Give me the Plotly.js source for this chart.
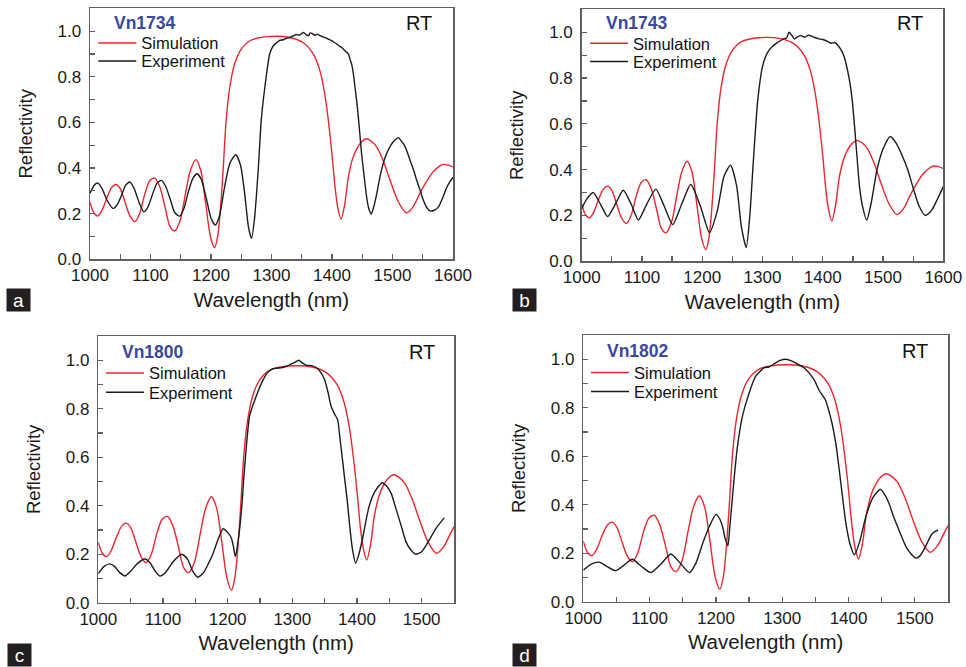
<!DOCTYPE html>
<html>
<head>
<meta charset="utf-8">
<script src="https://cdn.plot.ly/plotly-3.0.1.min.js"></script>
<style>
html,body{margin:0;padding:0;background:#fff;}
#chart{width:966px;height:667px;}
</style>
</head>
<body>
<div id="chart"></div>
<script>
// ---------- data ----------
const panelNames = ["Vn1734", "Vn1743", "Vn1800", "Vn1802"];
const panelLetters = ["a", "b", "c", "d"];
const seriesNames = ["Simulation", "Experiment"];
const xRangeAB = [1000, 1600];
const xRangeCD = [1000, 1550];
const yRange = [0, 1.1];

// simulated reflectivity (same design curve in all four panels)
const simX = [1000,1006,1013,1020,1028,1036,1043,1050,1058,1066,1074,1082,1091,1099,1107,1115,1124,1132,1140,1149,1158,1166,1175,1183,1191,1199,1206,1211,1215,1220,1225,1231,1239,1250,1266,1294,1330,1352,1369,1380,1388,1394,1400,1405,1410,1415,1421,1427,1434,1441,1449,1457,1466,1474,1485,1496,1510,1523,1534,1545,1556,1567,1576,1584,1592,1600];
const simY = [0.25,0.205,0.19,0.215,0.27,0.315,0.328,0.31,0.25,0.19,0.165,0.20,0.29,0.345,0.356,0.32,0.23,0.145,0.124,0.17,0.29,0.39,0.437,0.39,0.25,0.10,0.051,0.10,0.20,0.39,0.608,0.754,0.856,0.921,0.96,0.976,0.972,0.95,0.90,0.827,0.725,0.608,0.46,0.317,0.22,0.176,0.24,0.36,0.44,0.485,0.515,0.528,0.515,0.492,0.43,0.346,0.25,0.204,0.23,0.288,0.34,0.383,0.405,0.416,0.413,0.405];

// experiment, panel a (Vn1734)
const expAX = [1000,1007,1013,1020,1028,1038,1045,1052,1059,1066,1073,1081,1089,1096,1104,1111,1118,1125,1133,1140,1148,1155,1163,1170,1177,1184,1192,1200,1207,1214,1222,1231,1241,1249,1256,1262,1267,1272,1278,1283,1289,1297,1303,1309,1314,1320,1325,1330,1336,1341,1346,1350,1353,1357,1361,1364,1367,1372,1376,1380,1385,1390,1394,1399,1404,1408,1412,1416,1419,1423,1427,1430,1433,1436,1438,1442,1446,1449,1452,1455,1458,1461,1465,1469,1474,1480,1488,1495,1501,1505,1510,1514,1518,1523,1529,1535,1540,1546,1551,1556,1562,1569,1576,1583,1590,1595,1600];
const expAY = [0.29,0.325,0.334,0.31,0.26,0.223,0.24,0.28,0.325,0.339,0.31,0.25,0.208,0.23,0.29,0.335,0.346,0.32,0.26,0.205,0.189,0.22,0.30,0.355,0.375,0.35,0.27,0.18,0.15,0.19,0.31,0.42,0.458,0.41,0.28,0.14,0.092,0.18,0.39,0.608,0.754,0.90,0.936,0.95,0.96,0.962,0.969,0.972,0.979,0.985,0.982,0.99,0.994,0.985,0.979,0.992,0.99,0.982,0.987,0.98,0.975,0.97,0.965,0.958,0.95,0.943,0.935,0.928,0.921,0.91,0.90,0.875,0.85,0.80,0.754,0.666,0.55,0.46,0.39,0.32,0.259,0.22,0.198,0.23,0.288,0.37,0.448,0.49,0.514,0.525,0.533,0.52,0.507,0.48,0.434,0.39,0.346,0.30,0.259,0.23,0.212,0.215,0.23,0.27,0.317,0.34,0.36];

// experiment, panel b (Vn1743)
const expBX = [1000,1008,1019,1031,1043,1056,1069,1082,1094,1108,1123,1137,1151,1166,1181,1197,1212,1225,1236,1247,1257,1265,1273,1279,1284,1292,1300,1308,1317,1325,1334,1340,1344,1349,1353,1358,1364,1370,1376,1384,1392,1400,1408,1414,1420,1426,1432,1437,1441,1445,1449,1453,1457,1461,1466,1473,1480,1490,1500,1512,1522,1532,1541,1550,1560,1570,1580,1590,1600];
const expBY = [0.23,0.27,0.30,0.25,0.195,0.25,0.31,0.25,0.18,0.25,0.315,0.24,0.16,0.25,0.335,0.24,0.125,0.22,0.37,0.42,0.33,0.15,0.06,0.20,0.405,0.70,0.85,0.91,0.94,0.955,0.97,0.975,1.0,0.985,0.97,0.98,0.985,0.978,0.987,0.98,0.972,0.968,0.96,0.952,0.955,0.94,0.915,0.88,0.835,0.78,0.70,0.58,0.45,0.325,0.24,0.18,0.25,0.40,0.49,0.545,0.515,0.46,0.40,0.32,0.24,0.20,0.22,0.27,0.326];

// experiment, panel c (Vn1800)
const expCX = [1000,1009,1018,1025,1033,1041,1050,1060,1072,1080,1088,1095,1104,1116,1129,1138,1146,1154,1163,1170,1177,1185,1193,1200,1206,1209,1212,1216,1221,1226,1234,1244,1255,1262,1270,1285,1295,1303,1310,1315,1321,1330,1337,1344,1350,1355,1360,1365,1370,1374,1378,1381,1385,1389,1393,1398,1403,1409,1414,1419,1428,1439,1446,1453,1460,1468,1476,1484,1491,1500,1512,1523,1535];
const expCY = [0.12,0.15,0.16,0.15,0.125,0.11,0.13,0.16,0.18,0.165,0.13,0.11,0.125,0.17,0.20,0.18,0.13,0.105,0.125,0.16,0.20,0.26,0.305,0.29,0.265,0.23,0.19,0.25,0.37,0.55,0.77,0.85,0.92,0.95,0.965,0.97,0.98,0.99,1.0,0.99,0.98,0.978,0.97,0.95,0.92,0.87,0.81,0.78,0.755,0.67,0.58,0.51,0.42,0.31,0.22,0.163,0.20,0.27,0.34,0.40,0.46,0.495,0.48,0.45,0.39,0.32,0.25,0.215,0.20,0.21,0.26,0.31,0.35];

// experiment, panel d (Vn1802)
const expDX = [1000,1012,1024,1036,1049,1061,1074,1088,1102,1117,1132,1146,1160,1170,1180,1190,1200,1206,1210,1214,1218,1221,1225,1232,1240,1250,1260,1273,1280,1290,1297,1305,1312,1320,1335,1348,1356,1360,1365,1370,1375,1381,1386,1391,1396,1402,1409,1417,1426,1437,1448,1455,1461,1468,1476,1488,1501,1508,1516,1526,1535];
const expDY = [0.13,0.155,0.163,0.145,0.128,0.15,0.175,0.145,0.12,0.155,0.197,0.16,0.12,0.16,0.24,0.31,0.36,0.34,0.31,0.26,0.23,0.31,0.434,0.63,0.765,0.86,0.93,0.965,0.968,0.985,0.995,1.0,0.995,0.985,0.96,0.916,0.87,0.854,0.833,0.79,0.737,0.65,0.544,0.43,0.324,0.24,0.193,0.25,0.35,0.43,0.464,0.44,0.406,0.35,0.296,0.22,0.18,0.19,0.227,0.28,0.296];

const yTickVals = [0, 0.2, 0.4, 0.6, 0.8, 1.0];
const yTickText = ["0.0", "0.2", "0.4", "0.6", "0.8", "1.0"];

// ---------- layout geometry (pixels of the 966x667 page) ----------
const W = 966, H = 667;
const px = v => v / W;
const py = v => 1 - v / H;
const boxes = [
  {l: 90,    r: 453,   t: 8.3, b: 259.3},
  {l: 581.7, r: 943.3, t: 9.3, b: 261.3},
  {l: 98.3,  r: 454,   t: 336, b: 602.7},
  {l: 583.3, r: 948,   t: 335, b: 601.7}
];
const expX = [expAX, expBX, expCX, expDX];
const expY = [expAY, expBY, expCY, expDY];
const xRanges = [xRangeAB, xRangeAB, xRangeCD, xRangeCD];

const RED = "#e8262d", BLACK = "#1b1b1b", AXC = "#5f5f5f";
const FONT = "Arial, 'Liberation Sans', Helvetica, sans-serif";

const traces = [];
const layout = {
  width: W, height: H,
  margin: {l: 0, r: 0, t: 0, b: 0},
  paper_bgcolor: "#ffffff", plot_bgcolor: "#ffffff",
  font: {family: FONT, color: "#111"},
  showlegend: true,
  annotations: []
};

// legend item positions (line start x, y of the two rows)
const legendPos = [
  {x: 98.3, y1: 43.3, y2: 61.3},
  {x: 590, y1: 43.5, y2: 61.7},
  {x: 106, y1: 373.3, y2: 392.5},
  {x: 591, y1: 372.7, y2: 391.7}
];
const namePos = [
  {x: 111.7, y: 22.7}, {x: 604.3, y: 23.3}, {x: 120, y: 351.7}, {x: 605.3, y: 351}
];
const rtPos = [
  {x: 434, y: 22.7}, {x: 925.3, y: 23.3}, {x: 437.3, y: 351.7}, {x: 930, y: 350.7}
];
const letterPos = [
  {x: 18.7, y: 299.5}, {x: 524.3, y: 299.5}, {x: 19, y: 654.5}, {x: 524.3, y: 655}
];

for (let i = 0; i < 4; i++) {
  const k = i === 0 ? "" : String(i + 1);
  const bx = boxes[i];
  const lgS = "legend" + (2 * i === 0 ? "" : String(2 * i + 1));
  const lgE = "legend" + String(2 * i + 2);
  traces.push({
    type: "scatter", mode: "lines", name: seriesNames[0],
    x: simX, y: simY, xaxis: "x" + k, yaxis: "y" + k,
    line: {color: RED, width: 1.4, shape: "spline", smoothing: 0.8},
    legend: lgS, hoverinfo: "x+y"
  });
  traces.push({
    type: "scatter", mode: "lines", name: seriesNames[1],
    x: expX[i], y: expY[i], xaxis: "x" + k, yaxis: "y" + k,
    line: {color: BLACK, width: 1.4, shape: "spline", smoothing: 0.6},
    legend: lgE, hoverinfo: "x+y"
  });

  const common = {
    showline: true, linecolor: AXC, linewidth: 1.5, mirror: true,
    showgrid: false, zeroline: false,
    ticks: "inside", ticklen: 5, tickwidth: 1.2, tickcolor: AXC,
    tickfont: {family: FONT, size: 17, color: "#1a1a1a"}
  };
  layout["xaxis" + k] = Object.assign({}, common, {
    domain: [px(bx.l), px(bx.r)], anchor: "y" + k,
    range: xRanges[i], tickmode: "linear", tick0: 1000, dtick: 100,
    minor: {tick0: 1000, dtick: 50, ticks: "inside", ticklen: 5, tickwidth: 1.2, tickcolor: AXC, showgrid: false},
    title: {text: "Wavelength (nm)", font: {family: FONT, size: 20.5, color: "#1a1a1a"}, standoff: 8}
  });
  layout["yaxis" + k] = Object.assign({}, common, {
    domain: [py(bx.b), py(bx.t)], anchor: "x" + k,
    range: yRange, tickmode: "array", tickvals: yTickVals, ticktext: yTickText,
    ticklabelstandoff: 4,
    minor: {tickmode: "linear", tick0: 0, dtick: 0.1, ticks: "inside", ticklen: 5, tickwidth: 1.2, tickcolor: AXC, showgrid: false},
    title: {text: "Reflectivity", font: {family: FONT, size: 18.5, color: "#1a1a1a"}, standoff: 20}
  });

  const lp = legendPos[i];
  const legBase = {
    xref: "paper", yref: "paper", xanchor: "left", yanchor: "middle",
    bgcolor: "rgba(0,0,0,0)", borderwidth: 0, itemwidth: 38,
    font: {family: FONT, size: 16.5, color: "#111"}, itemclick: false, itemdoubleclick: false
  };
  layout[lgS] = Object.assign({}, legBase, {x: px(lp.x - 5), y: py(lp.y1)});
  layout[lgE] = Object.assign({}, legBase, {x: px(lp.x - 5), y: py(lp.y2)});

  layout.annotations.push({
    xref: "paper", yref: "paper", x: px(namePos[i].x), y: py(namePos[i].y),
    xanchor: "left", yanchor: "middle", showarrow: false,
    text: "<b>" + panelNames[i] + "</b>",
    font: {family: FONT, size: 17.5, color: "#3a48a0"}
  });
  layout.annotations.push({
    xref: "paper", yref: "paper", x: px(rtPos[i].x), y: py(rtPos[i].y),
    xanchor: "right", yanchor: "middle", showarrow: false,
    text: "RT", font: {family: FONT, size: 20, color: "#111"}
  });
  layout.annotations.push({
    xref: "paper", yref: "paper", x: px(letterPos[i].x), y: py(letterPos[i].y),
    xanchor: "center", yanchor: "middle", showarrow: false,
    text: panelLetters[i], width: 23, height: 22, borderpad: 0,
    bgcolor: "#231f20", font: {family: FONT, size: 19, color: "#ffffff"}
  });
}

Plotly.newPlot("chart", traces, layout, {displayModeBar: false, staticPlot: true});
</script>
</body>
</html>
